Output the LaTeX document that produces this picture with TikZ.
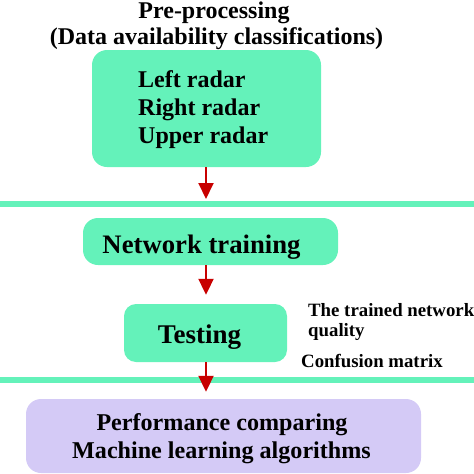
\documentclass[tikz,border=0pt]{standalone}
\usepackage{fontspec}
\setmainfont{Liberation Serif}
\usetikzlibrary{arrows.meta}
\definecolor{teal1}{RGB}{100,242,186}
\definecolor{lav}{RGB}{212,202,246}
\definecolor{dred}{RGB}{200,0,0}
\begin{document}
\begin{tikzpicture}[x=1pt,y=-1pt,
  box/.style={draw=none,rounded corners=15pt,inner sep=0pt},
  gbox/.style={box,fill=teal1},
  pbox/.style={box,fill=lav},
  txt/.style={inner sep=0pt,font=\bfseries\fontsize{24}{28}\selectfont},
  small/.style={inner sep=0pt,font=\bfseries\fontsize{18.8}{20}\selectfont},
  arr/.style={draw=dred,line width=2pt,-{Triangle[width=15pt,length=16pt]},fill=dred},
  sep/.style={draw=teal1,line width=6pt}]
\useasboundingbox (0,0) rectangle (474,474);
% title
\node[txt,font=\bfseries\fontsize{24}{27}\selectfont,anchor=base] (t1) at (214,18.5) {Pre-processing};
\node[txt,font=\bfseries\fontsize{24}{27}\selectfont,anchor=base] (t2) at (216.5,44.5) {(Data availability classifications)};
% boxes
\node[gbox,minimum width=229pt,minimum height=117pt] (box1) at (206.5,108.5) {};
\node[gbox,minimum width=255pt,minimum height=47pt] (box2) at (210.5,241.5) {};
\node[gbox,minimum width=163pt,minimum height=58pt,rounded corners=12pt] (box3) at (205.5,333) {};
\node[pbox,minimum width=395pt,minimum height=74pt] (box4) at (223.5,436) {};
% box texts
\node[txt,anchor=base west] (l1) at (138,87) {Left radar};
\node[txt,anchor=base west] (l2) at (138,115) {Right radar};
\node[txt,anchor=base west] (l3) at (138,143) {Upper radar};
\node[txt,font=\bfseries\fontsize{26.7}{30}\selectfont,anchor=base] (n1) at (201.5,253) {Network training};
\node[txt,font=\bfseries\fontsize{27}{30}\selectfont,anchor=base] (te) at (199.5,343) {Testing};
\node[txt,font=\bfseries\fontsize{24.1}{28}\selectfont,anchor=base] (p1) at (222,430) {Performance comparing};
\node[txt,font=\bfseries\fontsize{24.1}{28}\selectfont,anchor=base] (p2) at (221.5,458) {Machine learning algorithms};
% side notes
\node[small,anchor=base west] (s1) at (308,316) {The trained network};
\node[small,anchor=base west] (s2) at (308,336) {quality};
\node[small,anchor=base west] (s3) at (301,367) {Confusion matrix};
% separator lines
\coordinate (la) at (0,204);
\coordinate (lb) at (474,204);
\coordinate (lc) at (0,380);
\coordinate (ld) at (474,380);
\draw[sep] (la) -- (lb);
\draw[sep] (lc) -- (ld);
% arrows
\coordinate (ax) at (206,0);
\coordinate (a1e) at (206,199);
\draw[arr] (box1.south -| ax) -- (a1e);
\draw[arr,shorten >=9pt] (box2.south -| ax) -- (box3.north -| ax);
\draw[arr,shorten >=7pt] (box3.south -| ax) -- (box4.north -| ax);
\end{tikzpicture}
\end{document}
